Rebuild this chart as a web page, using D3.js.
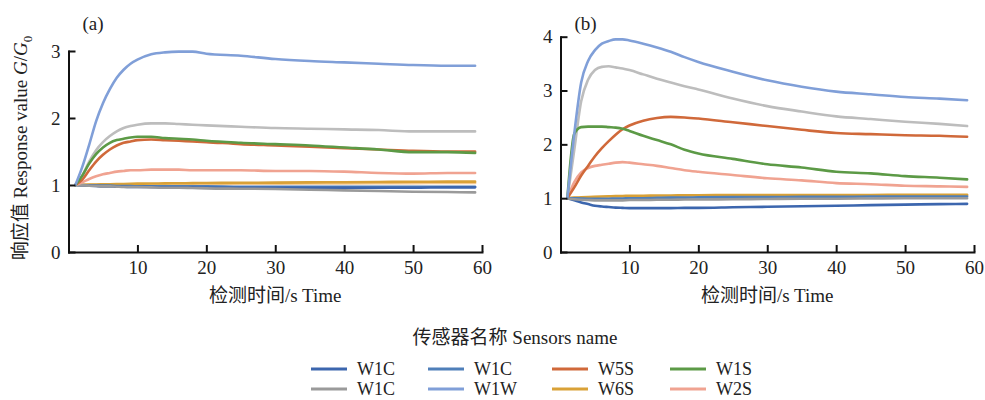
<!DOCTYPE html>
<meta charset="utf-8">
<head>
  <title>Sensor response</title>
  <style>
    body { margin: 0; background: #fff; }
    svg text { font-family: "Liberation Serif", "Noto Sans CJK SC", serif; fill: #222; }
    .axis path, .axis line { stroke: #111; stroke-width: 2px; }
    .axis text { font-size: 19px; }
    .curve { fill: none; stroke-width: 2.6px; stroke-linejoin: round; stroke-linecap: round; }
  </style>
  <script src="https://d3js.org/d3.v7.min.js"></script>
</head>
<body>
<svg id="chart" width="985" height="400"></svg>
<script>
// sampling times (s)
var times = [1,2,3,4,5,6,7,8,9,10,12,14,16,18,20,25,30,35,40,45,50,55,59];

var xTicks = [10,20,30,40,50,60];
var yTicksA = [0,1,2,3];
var yTicksB = [0,1,2,3,4];

// legend (two rows of four)
var legendNames = ["W1C","W1C","W5S","W1S","W1C","W1W","W6S","W2S"];
var legendColors = ["#3c66ae","#4f7fb9","#d0693a","#5c9a46","#9a9a9a","#809fd8","#d9a137","#f0a391"];
var extraColors = ["#bdbdbd","#f6c98f"];   // two more curves without legend entry

// panel (a)
var a_w1c1 = [1,0.995,0.99,0.985,0.98,0.98,0.975,0.975,0.97,0.97,0.97,0.965,0.965,0.965,0.96,0.96,0.96,0.96,0.96,0.96,0.96,0.965,0.965];
var a_w1c2 = [1,1,0.995,0.99,0.99,0.99,0.985,0.985,0.985,0.98,0.98,0.98,0.98,0.98,0.98,0.975,0.975,0.975,0.975,0.975,0.975,0.975,0.975];
var a_w5s  = [1,1.08,1.22,1.35,1.45,1.53,1.59,1.63,1.65,1.67,1.68,1.67,1.66,1.65,1.64,1.61,1.59,1.57,1.55,1.53,1.51,1.50,1.50];
var a_w1s  = [1,1.14,1.32,1.46,1.56,1.63,1.67,1.69,1.71,1.72,1.72,1.70,1.69,1.68,1.66,1.63,1.61,1.59,1.56,1.53,1.49,1.49,1.48];
var a_w1c3 = [1,0.995,0.99,0.985,0.98,0.98,0.975,0.97,0.97,0.97,0.965,0.96,0.96,0.955,0.95,0.945,0.94,0.93,0.92,0.91,0.90,0.895,0.89];
var a_w1w  = [1,1.27,1.6,1.95,2.22,2.43,2.6,2.72,2.81,2.87,2.95,2.98,2.99,2.99,2.96,2.93,2.88,2.85,2.83,2.81,2.79,2.78,2.78];
var a_w6s  = [1,1.002,1.005,1.008,1.01,1.012,1.014,1.016,1.018,1.02,1.022,1.024,1.026,1.028,1.03,1.033,1.036,1.039,1.042,1.045,1.048,1.05,1.05];
var a_w2s  = [1,1.04,1.09,1.13,1.16,1.18,1.20,1.21,1.22,1.22,1.23,1.23,1.23,1.22,1.22,1.22,1.21,1.21,1.20,1.18,1.17,1.18,1.18];
var a_x1   = [1,1.14,1.35,1.52,1.64,1.73,1.80,1.85,1.88,1.90,1.92,1.92,1.91,1.90,1.89,1.87,1.85,1.84,1.83,1.82,1.80,1.80,1.80];
var a_x2   = [1,1,1.002,1.004,1.005,1.006,1.007,1.008,1.009,1.01,1.012,1.013,1.014,1.015,1.016,1.018,1.02,1.022,1.024,1.026,1.028,1.03,1.03];

// panel (b)
var b_w1c1 = [1,0.96,0.92,0.89,0.86,0.845,0.835,0.825,0.82,0.815,0.815,0.815,0.815,0.82,0.82,0.83,0.84,0.85,0.86,0.87,0.88,0.89,0.895];
var b_w1c2 = [1,1,0.995,0.99,0.99,0.99,0.99,0.995,0.995,1.0,1.0,1.005,1.01,1.01,1.015,1.02,1.02,1.025,1.025,1.03,1.03,1.03,1.03];
var b_w5s  = [1,1.2,1.42,1.6,1.78,1.93,2.06,2.18,2.28,2.35,2.44,2.49,2.51,2.50,2.48,2.41,2.34,2.27,2.21,2.19,2.17,2.16,2.14];
var b_w1s  = [1,2.2,2.32,2.33,2.33,2.33,2.32,2.31,2.29,2.25,2.16,2.08,2.0,1.9,1.83,1.73,1.63,1.57,1.49,1.46,1.41,1.38,1.35];
var b_w1c3 = [1,0.98,0.97,0.965,0.96,0.96,0.96,0.96,0.96,0.965,0.965,0.97,0.97,0.975,0.975,0.98,0.985,0.99,0.99,0.995,1.0,1.0,1.0];
var b_w1w  = [1,2.2,3.15,3.55,3.75,3.87,3.92,3.95,3.95,3.93,3.87,3.80,3.72,3.62,3.53,3.35,3.19,3.07,2.98,2.93,2.88,2.85,2.82];
var b_w6s  = [1,1.01,1.015,1.02,1.025,1.03,1.035,1.04,1.04,1.045,1.045,1.05,1.05,1.055,1.055,1.06,1.06,1.06,1.06,1.06,1.065,1.065,1.065];
var b_w2s  = [1,1.3,1.48,1.56,1.6,1.62,1.64,1.66,1.67,1.66,1.63,1.60,1.56,1.52,1.49,1.43,1.37,1.33,1.28,1.26,1.23,1.22,1.21];
var b_x1   = [1,1.9,2.8,3.2,3.38,3.44,3.45,3.43,3.41,3.38,3.30,3.22,3.15,3.08,3.02,2.85,2.71,2.61,2.52,2.47,2.42,2.38,2.34];
var b_x2   = [1,1.005,1.01,1.015,1.02,1.02,1.025,1.025,1.03,1.03,1.03,1.035,1.035,1.04,1.04,1.04,1.045,1.045,1.045,1.05,1.05,1.05,1.05];

var colorsAll = legendColors.concat(extraColors);
var panelA = [a_w1c1,a_w1c2,a_w5s,a_w1s,a_w1c3,a_w1w,a_w6s,a_w2s,a_x1,a_x2];
var panelB = [b_w1c1,b_w1c2,b_w5s,b_w1s,b_w1c3,b_w1w,b_w6s,b_w2s,b_x1,b_x2];
// draw order: low lines first, big ones on top
var drawOrder = [9,6,1,0,4,7,8,2,3,5];

var svg = d3.select("#chart");

function drawPanel(opts) {
  var x = d3.scaleLinear().domain([0, 60]).range([opts.x0, opts.x1]);
  var y = d3.scaleLinear().domain([0, opts.yMax]).range([252, opts.yTop]);
  var g = svg.append("g");

  var line = d3.line()
    .x(function(d) { return x(d[0]); })
    .y(function(d) { return y(d[1]); })
    .curve(d3.curveMonotoneX);

  g.selectAll("path.curve")
    .data(drawOrder)
    .enter().append("path")
    .attr("class", "curve")
    .attr("stroke", function(i) { return colorsAll[i]; })
    .attr("d", function(i) { return line(times.map(function(t, k) { return [t, opts.series[i][k]]; })); });

  g.append("g")
    .attr("class", "axis")
    .attr("transform", "translate(0,252)")
    .call(d3.axisBottom(x).tickValues(xTicks).tickFormat(d3.format("d"))
      .tickSize(-7).tickSizeOuter(0).tickPadding(9));

  g.append("g")
    .attr("class", "axis")
    .attr("transform", "translate(" + opts.x0 + ",0)")
    .call(d3.axisLeft(y).tickValues(opts.yTicks).tickFormat(d3.format("d"))
      .tickSize(-7).tickSizeOuter(0).tickPadding(8));

  g.selectAll(".axis .domain").attr("stroke-linecap", "square");

  g.append("text")
    .attr("x", opts.x0 + 14).attr("y", 30)
    .style("font-size", "19px")
    .text(opts.label);

  g.append("text")
    .attr("x", (opts.x0 + opts.x1) / 2).attr("y", 302)
    .attr("text-anchor", "middle")
    .style("font-size", "19px")
    .text("检测时间/s Time");
}

drawPanel({ x0: 68.5, x1: 482, yMax: 3, yTop: 51, yTicks: yTicksA, series: panelA, label: "(a)" });
drawPanel({ x0: 560.5, x1: 974, yMax: 4, yTop: 36.7, yTicks: yTicksB, series: panelB, label: "(b)" });

// y axis title
var yt = svg.append("text")
  .attr("transform", "translate(27,148) rotate(-90)")
  .attr("text-anchor", "middle")
  .style("font-size", "19px");
yt.append("tspan").text("响应值 Response value ");
yt.append("tspan").style("font-style", "italic").text("G");
yt.append("tspan").text("/");
yt.append("tspan").style("font-style", "italic").text("G");
yt.append("tspan").attr("dy", 5).style("font-size", "13px").text("0");

// legend
svg.append("text")
  .attr("x", 515).attr("y", 344)
  .attr("text-anchor", "middle")
  .style("font-size", "19px")
  .text("传感器名称 Sensors name");

var colX = [311, 428, 552, 670];
var rowY = [369, 389];
var items = svg.selectAll("g.leg")
  .data(legendNames)
  .enter().append("g")
  .attr("class", "leg")
  .attr("transform", function(d, i) { return "translate(" + colX[i % 4] + "," + rowY[Math.floor(i / 4)] + ")"; });

items.append("line")
  .attr("x1", 0).attr("x2", 36).attr("y1", 0).attr("y2", 0)
  .attr("stroke-width", 3)
  .attr("stroke", function(d, i) { return legendColors[i]; });

items.append("text")
  .attr("x", 46).attr("y", 6)
  .style("font-size", "18px")
  .text(function(d) { return d; });
</script>
</body>
</html>
